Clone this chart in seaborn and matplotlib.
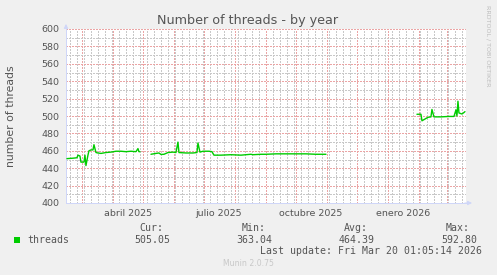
import numpy as np
import pandas as pd
import matplotlib
matplotlib.use("Agg")
import matplotlib.pyplot as plt
import matplotlib.dates as mdates
from matplotlib.ticker import MultipleLocator, NullFormatter
from matplotlib.patches import Rectangle
import seaborn as sns

# ---------------- data ----------------
seg1_dates = ["2025-02-14", "2025-02-20", "2025-02-24", "2025-02-25", "2025-02-27",
              "2025-02-28", "2025-03-03", "2025-03-04", "2025-03-05", "2025-03-07",
              "2025-03-08", "2025-03-10", "2025-03-12", "2025-03-13", "2025-03-15",
              "2025-03-17", "2025-03-20", "2025-03-25", "2025-03-30", "2025-04-04",
              "2025-04-09", "2025-04-14", "2025-04-19", "2025-04-24", "2025-04-26",
              "2025-04-27", "2025-04-28"]
seg1_values = [451, 451.5, 452, 455, 454,
               447, 447, 455, 443, 455,
               460, 461, 461, 467, 458,
               457.5, 457, 458, 458.5, 459.5,
               459.5, 459, 459.5, 459, 462.5,
               459, 459]

seg2_dates = ["2025-05-09", "2025-05-14", "2025-05-17", "2025-05-19", "2025-05-22",
              "2025-05-26", "2025-05-31", "2025-06-03", "2025-06-05", "2025-06-06",
              "2025-06-13", "2025-06-20", "2025-06-24", "2025-06-25", "2025-06-27",
              "2025-06-30", "2025-07-06", "2025-07-09", "2025-07-11", "2025-07-18",
              "2025-07-28", "2025-08-07", "2025-08-17", "2025-08-19", "2025-08-27",
              "2025-09-01", "2025-09-11", "2025-09-21", "2025-10-01", "2025-10-11",
              "2025-10-21", "2025-10-31"]
seg2_values = [456, 457, 457.5, 455.8, 456,
               458, 458.5, 458, 470, 458,
               457.5, 457.5, 458, 469, 458.5,
               459.5, 459.5, 459, 455, 455,
               455.5, 455, 456, 455.5, 456,
               456, 456.5, 456.5, 456.5, 456.5,
               456, 456]

seg3_dates = ["2026-01-30", "2026-02-03", "2026-02-04", "2026-02-07", "2026-02-10",
              "2026-02-13", "2026-02-14", "2026-02-16", "2026-02-23", "2026-03-03",
              "2026-03-08", "2026-03-10", "2026-03-11", "2026-03-12", "2026-03-13",
              "2026-03-16", "2026-03-18", "2026-03-19"]
seg3_values = [502, 502, 494.5, 496.5, 498.5,
               499, 507.5, 499, 499, 499.5,
               499.5, 507, 500, 517, 503.5,
               502.3, 504, 505]

title = "Number of threads - by year"
y_label = "number of threads"
series_name = "threads"
stat_names = ["Cur:", "Min:", "Avg:", "Max:"]
stat_values = ["505.05", "363.04", "464.39", "592.80"]
quarter_labels = ["abril 2025", "julio 2025", "octubre 2025", "enero 2026"]
quarter_label_dates = ["2025-04-16", "2025-07-16", "2025-10-16", "2026-01-16"]
last_update = "Last update: Fri Mar 20 01:05:14 2026"
range_start = "2025-02-13 01:05:14"
range_end = "2026-03-20 01:05:14"
y_min, y_max = 400, 600

frames = []
for i, (d, v) in enumerate([(seg1_dates, seg1_values), (seg2_dates, seg2_values),
                            (seg3_dates, seg3_values)]):
    frames.append(pd.DataFrame({"date": pd.to_datetime(d), "threads": v, "segment": i}))
df = pd.concat(frames, ignore_index=True)

# ---------------- style ----------------
sns.set_style("white")
plt.rcParams["font.family"] = ["DejaVu Sans"]
FONT = "#555555"
MGRID = "#EBA5A5"
GRID = "#C8C8C8"
AXIS = "#CFD6F8"
GREEN = "#00CC00"

W, H = 497, 275
fig = plt.figure(figsize=(W / 100, H / 100), dpi=100, facecolor="#F0F0F0")


def fx(px):
    return px / W


def fy(py):
    return 1 - py / H


left_px, right_px, top_px, bot_px = 66, 466, 29, 203
ax = fig.add_axes([fx(left_px), fy(bot_px), (right_px - left_px) / W, (bot_px - top_px) / H])
ax.set_facecolor("white")

sns.lineplot(data=df, x="date", y="threads", units="segment", estimator=None,
             color=GREEN, lw=1.0, ax=ax, legend=False, zorder=3)

ax.set_xlim(pd.Timestamp(range_start), pd.Timestamp(range_end))
ax.set_ylim(y_min, y_max)
ax.set_xlabel("")
ax.set_ylabel("")

ax.xaxis.set_major_locator(mdates.MonthLocator())
ax.xaxis.set_minor_locator(mdates.WeekdayLocator(byweekday=mdates.MO))
ax.xaxis.set_major_formatter(NullFormatter())
ax.yaxis.set_major_locator(MultipleLocator(20))
ax.yaxis.set_minor_locator(MultipleLocator(10))

dot = (0, (2.0, 2.0))
ax.grid(which="minor", color=GRID, linestyle=dot, lw=0.5, antialiased=False, zorder=1)
ax.grid(which="major", color=MGRID, linestyle=dot, lw=0.5, antialiased=False, zorder=2)
ax.set_axisbelow(True)

ax.tick_params(axis="both", which="major", direction="out", length=2, width=0.72,
               color=MGRID, labelcolor=FONT, labelsize=6.8)
ax.tick_params(axis="both", which="minor", direction="out", length=2, width=0.72,
               color=GRID)
ax.tick_params(axis="y", which="major", pad=3)
ax.tick_params(axis="y", which="minor", length=0)
ax.set_yticks(range(y_min, y_max + 1, 20))

for s in ["top", "right"]:
    ax.spines[s].set_visible(False)
for s in ["left", "bottom"]:
    ax.spines[s].set_color(AXIS)
    ax.spines[s].set_linewidth(0.72)

# axis arrows
ax.annotate("", xy=(0, 1.045), xytext=(0, 0.99), xycoords="axes fraction",
            arrowprops=dict(arrowstyle="-|>", color=AXIS, lw=0.72, mutation_scale=6))
ax.annotate("", xy=(1.022, 0), xytext=(0.99, 0), xycoords="axes fraction",
            arrowprops=dict(arrowstyle="-|>", color=AXIS, lw=0.72, mutation_scale=6))

# quarter labels centred in their month
xt = ax.get_xaxis_transform()
lab_y = -(216 - bot_px) / (bot_px - top_px)
for lab, d in zip(quarter_labels, quarter_label_dates):
    ax.text(pd.Timestamp(d), lab_y, lab, transform=xt, ha="center", va="baseline",
            fontsize=6.8, color=FONT)

# titles
fig.text(fx(247.5), fy(24), title, ha="center", va="baseline", fontsize=9.2, color=FONT)
fig.text(fx(11), fy(116), y_label, ha="center", va="center", rotation=90,
         fontsize=7.8, color=FONT)
fig.text(fx(488), fy(5), "RRDTOOL / TOBI OETIKER", ha="center", va="top",
         rotation=270, fontsize=4.6, color="#BDBDBD")

# legend block
mono = "DejaVu Sans Mono"
fig.patches.append(Rectangle((fx(14), fy(243)), 6 / W, 6 / H, transform=fig.transFigure,
                             facecolor=GREEN, edgecolor="none"))
fig.text(fx(27), fy(242.7), series_name, family=mono, fontsize=7.1, color=FONT,
         ha="left", va="baseline")
name_right = [163, 266, 368, 470]
val_right = [170, 272, 375, 477]
for n, v, nr, vr in zip(stat_names, stat_values, name_right, val_right):
    fig.text(fx(nr), fy(231), n, family=mono, fontsize=7.1, color=FONT,
             ha="right", va="baseline")
    fig.text(fx(vr), fy(242.7), v, family=mono, fontsize=7.1, color=FONT,
             ha="right", va="baseline")
fig.text(fx(482), fy(254.3), last_update, family=mono, fontsize=7.1, color=FONT,
         ha="right", va="baseline")
fig.text(fx(248), fy(266.5), "Munin 2.0.75", ha="center", va="baseline",
         fontsize=5.6, color="#C8C8C8")

fig.savefig("out.png", dpi=100, facecolor=fig.get_facecolor())
